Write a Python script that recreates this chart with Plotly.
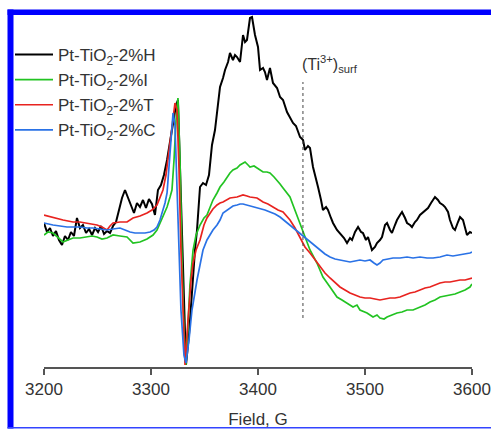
import plotly.graph_objects as go

# ---- data (field in G, derivative intensity in arbitrary units) ----
field_H = [3200, 3202.8, 3205.6, 3208.4, 3211.2, 3214.0, 3216.8, 3219.6, 3222.4, 3225.2, 3228.0, 3230.8, 3233.6, 3236.4,
           3239.3, 3242.1, 3244.9, 3247.7, 3250.5, 3253.3, 3256.1, 3258.9, 3261.7, 3264.5, 3267.3, 3270.1, 3272.9, 3275.7,
           3278.5, 3281.3, 3284.1, 3286.9, 3289.7, 3292.5, 3295.3, 3298.1, 3300.9, 3303.7, 3306.5, 3309.3, 3312.1, 3315.0,
           3317.8, 3320.6, 3323.4, 3325.2, 3328.0, 3330.8, 3332.7, 3335.5, 3338.3, 3341.1, 3343.0, 3345.8, 3348.6, 3351.4,
           3354.2, 3357.0, 3359.8, 3362.6, 3364.5, 3367.3, 3369.2, 3372.0, 3373.8, 3376.6, 3378.5, 3380.4, 3383.2, 3386.0,
           3387.9, 3389.7, 3392.5, 3394.4, 3397.2, 3400.0, 3401.9, 3404.7, 3406.5, 3408.4, 3411.2, 3414.0, 3417.8, 3420.6,
           3423.4, 3427.1, 3429.9, 3432.7, 3435.5, 3439.3, 3442.1, 3443.9, 3446.7, 3448.6, 3451.4, 3454.2, 3456.1, 3458.9,
           3460.7, 3463.6, 3465.4, 3468.2, 3470.1, 3473.8, 3476.6, 3480.4, 3483.2, 3486.0, 3487.9, 3490.7, 3493.5, 3496.3,
           3498.1, 3500.9, 3502.8, 3504.7, 3506.5, 3509.3, 3511.2, 3514.0, 3515.9, 3518.7, 3520.6, 3523.4, 3525.2, 3528.0,
           3529.9, 3532.7, 3534.6, 3537.4, 3539.3, 3542.1, 3543.9, 3546.7, 3548.6, 3551.4, 3554.2, 3557.0, 3558.9, 3561.7,
           3565.4, 3568.2, 3570.1, 3572.9, 3574.8, 3577.6, 3579.4, 3582.2, 3584.1, 3586.9, 3588.8, 3591.6, 3593.5, 3595.3,
           3598.1, 3600.0]
signal_H = [7, -2, 2, -6, -1, -10, -15, -6, -10, -2, -6, 12, 2, 5,
            -3, 1, -5, 2, -2, 4, -4, -1, -3, 4, 8, 20, 32, 40,
            32, 24, 17, 27, 23, 30, 22, 31, 26, 15, 40, 45, 55, 70,
            90, 110, 125, 130, 30, -90, -135, -105, -60, -20, 0, 43, 47, 45,
            55, 85, 100, 125, 143, 152, 160, 168, 177, 170, 175, 173, 168, 195,
            188, 190, 212, 213, 195, 183, 160, 162, 158, 150, 162, 147, 142, 133,
            130, 118, 112, 107, 104, 93, 90, 80, 84, 82, 63, 52, 43, 30,
            20, 23, 20, 12, 7, 0, -3, -8, -13, -8, -10, -2, 3, -2,
            -3, -10, -7, -15, -20, -17, -13, -10, -7, 5, 7, 0, -3, 5,
            10, 15, 18, 12, 7, 5, 3, 8, 10, 15, 18, 20, 22, 27,
            33, 30, 27, 25, 23, 18, 10, 2, 0, 8, 13, 10, 2, -5,
            -2, -3]

field_I = [3200, 3203.7, 3208.4, 3213.1, 3217.8, 3222.4, 3227.1, 3233.6, 3240.2, 3244.9, 3249.5, 3254.2, 3258.9, 3264.5,
           3271.0, 3277.6, 3283.2, 3289.7, 3296.3, 3301.9, 3305.6, 3308.4, 3312.1, 3315.0, 3317.8, 3319.6, 3321.5, 3323.4,
           3325.2, 3327.1, 3329.0, 3330.8, 3332.7, 3334.6, 3336.4, 3339.3, 3342.1, 3345.8, 3349.5, 3352.3, 3355.1, 3357.9,
           3361.7, 3364.5, 3368.2, 3371.0, 3373.8, 3376.6, 3380.4, 3383.2, 3386.0, 3387.9, 3390.7, 3392.5, 3396.3, 3399.1,
           3401.9, 3404.7, 3408.4, 3411.2, 3415.0, 3417.8, 3420.6, 3423.4, 3427.1, 3429.9, 3432.7, 3435.5, 3439.3, 3443.9,
           3448.6, 3455.1, 3460.7, 3467.3, 3473.8, 3478.5, 3483.2, 3488.8, 3492.5, 3495.3, 3501.9, 3507.5, 3511.2, 3514.0,
           3517.8, 3520.6, 3525.2, 3529.9, 3534.6, 3539.3, 3544.9, 3551.4, 3556.1, 3560.7, 3565.4, 3570.1, 3574.8, 3579.4,
           3584.1, 3588.8, 3593.5, 3598.1, 3600.0]
signal_I = [-5, -2, -3, -8, -12, -10, -8, -8, -7, -6, -7, -9, -8, -5,
            -6, -7, -13, -12, -9, -5, 0, 7, 17, 23, 33, 40, 70, 110,
            132, 70, -30, -100, -135, -100, -55, -20, -5, 5, 12, 15, 23, 30,
            37, 43, 48, 53, 57, 60, 62, 65, 67, 68, 65, 63, 64, 62,
            60, 58, 58, 57, 53, 50, 46, 42, 37, 33, 25, 17, 7, -7,
            -20, -33, -47, -57, -67, -70, -73, -77, -75, -80, -83, -87, -85, -88,
            -89, -87, -85, -83, -82, -80, -80, -77, -75, -72, -70, -67, -66, -65,
            -64, -62, -60, -57, -54]

field_T = [3200, 3203.7, 3208.4, 3213.1, 3217.8, 3222.4, 3227.1, 3233.6, 3240.2, 3244.9, 3249.5, 3254.2, 3258.9, 3261.7,
           3264.5, 3271.0, 3277.6, 3283.2, 3289.7, 3296.3, 3300.9, 3305.6, 3308.4, 3311.2, 3314.0, 3316.8, 3319.6, 3322.4,
           3324.3, 3326.2, 3328.0, 3329.9, 3331.8, 3334.6, 3337.4, 3339.3, 3342.1, 3345.8, 3349.5, 3352.3, 3355.1, 3357.9,
           3361.7, 3364.5, 3367.3, 3371.0, 3373.8, 3380.4, 3386.0, 3389.7, 3392.5, 3399.1, 3404.7, 3409.3, 3414.0, 3418.7,
           3423.4, 3429.9, 3434.6, 3439.3, 3443.9, 3448.6, 3453.3, 3457.9, 3462.6, 3467.3, 3472.0, 3476.6, 3481.3, 3486.0,
           3490.7, 3495.3, 3500.0, 3504.7, 3509.3, 3514.0, 3518.7, 3523.4, 3528.0, 3532.7, 3537.4, 3542.1, 3546.7, 3551.4,
           3556.1, 3560.7, 3565.4, 3570.1, 3574.8, 3579.4, 3584.1, 3588.8, 3593.5, 3598.1, 3600.0]
signal_T = [15, 14, 12, 11, 10, 9, 8, 8, 7, 6, 5, 3, 0, 4,
            7, 8, 8, 12, 14, 17, 20, 25, 32, 40, 55, 80, 105, 127,
            120, 60, -20, -90, -135, -90, -50, -33, -20, -10, 5, 12, 17, 21,
            25, 27, 28, 30, 32, 33, 35, 34, 33, 32, 28, 26, 23, 20,
            18, 10, 2, -8, -17, -23, -30, -37, -43, -48, -53, -57, -60, -63,
            -65, -67, -68, -68, -69, -70, -69, -68, -68, -67, -65, -63, -62, -60,
            -58, -57, -55, -53, -52, -52, -51, -50, -50, -49, -48]

field_C = [3200, 3203.7, 3208.4, 3215.0, 3221.5, 3227.1, 3233.6, 3240.2, 3245.8, 3252.3, 3258.9, 3264.5, 3271.0, 3275.7,
           3280.4, 3285.0, 3289.7, 3294.4, 3299.1, 3302.8, 3305.6, 3308.4, 3310.3, 3313.1, 3315.0, 3316.8, 3318.7, 3320.6,
           3322.4, 3324.3, 3326.2, 3328.0, 3330.8, 3332.7, 3335.5, 3338.3, 3341.1, 3343.0, 3345.8, 3348.6, 3352.3, 3355.1,
           3357.9, 3361.7, 3364.5, 3367.3, 3371.0, 3373.8, 3376.6, 3380.4, 3383.2, 3386.0, 3389.7, 3392.5, 3397.2, 3401.9,
           3406.5, 3411.2, 3415.9, 3420.6, 3425.2, 3429.9, 3434.6, 3439.3, 3443.9, 3448.6, 3453.3, 3457.9, 3462.6, 3467.3,
           3472.0, 3476.6, 3481.3, 3486.0, 3490.7, 3495.3, 3500.0, 3504.7, 3508.4, 3511.2, 3514.0, 3516.8, 3521.5, 3526.2,
           3532.7, 3539.3, 3544.9, 3551.4, 3558.0, 3563.6, 3570.1, 3576.6, 3582.2, 3588.8, 3593.5, 3598.1, 3600.0]
signal_C = [7, 6, 5, 4, 3, 3, 3, 2, 2, 1, 0, 1, 2, 0,
            -2, -3, -3, -3, -2, 0, 3, 10, 17, 27, 37, 60, 90, 117,
            105, 50, -20, -80, -125, -133, -110, -80, -60, -50, -35, -20, -10, -5,
            0, 5, 10, 17, 20, 22, 24, 25, 26, 26, 25, 24, 23, 22,
            20, 18, 16, 13, 9, 5, 1, -3, -7, -12, -16, -20, -24, -27,
            -29, -30, -31, -32, -31, -30, -31, -30, -33, -35, -33, -30, -29, -28,
            -28, -27, -28, -27, -28, -28, -27, -25, -26, -25, -24, -23, -22]

series_names = ["Pt-TiO<sub>2</sub>-2%H", "Pt-TiO<sub>2</sub>-2%I",
                "Pt-TiO<sub>2</sub>-2%T", "Pt-TiO<sub>2</sub>-2%C"]
series_colors = ["#000000", "#22c322", "#e8231f", "#2a72e6"]

tick_vals = [3200, 3300, 3400, 3500, 3600]
marker_field = 3442
marker_label = "(Ti<sup>3+</sup>)<sub>surf</sub>"

# ---- figure ----
W, H = 491, 429
L, R, T, B = 44, 19, 15, 62
pw, ph = W - L - R, H - T - B

def px_x(p):
    return (p - L) / pw

def px_y(p):
    return (H - B - p) / ph

fig = go.Figure()
for fx, sy, name, col, lw in zip([field_H, field_I, field_T, field_C],
                                 [signal_H, signal_I, signal_T, signal_C],
                                 series_names, series_colors, [2, 1.7, 1.7, 1.7]):
    fig.add_trace(go.Scatter(x=fx, y=sy, mode="lines", name=name,
                             line=dict(color=col, width=lw)))

txt = "#333333"
fig.update_layout(
    width=W, height=H,
    margin=dict(l=L, r=R, t=T, b=B, pad=0, autoexpand=False),
    paper_bgcolor="white", plot_bgcolor="white",
    font=dict(family="Liberation Sans, Arial, sans-serif", size=17, color=txt),
    showlegend=True,
    legend=dict(x=px_x(10), y=px_y(37), xanchor="left", yanchor="top",
                bgcolor="rgba(0,0,0,0)", borderwidth=0, itemwidth=38,
                font=dict(size=17, color=txt), tracegroupgap=0),
    xaxis=dict(range=[3200, 3600], tickvals=tick_vals, ticks="outside", ticklen=6,
               tickwidth=1.5, tickcolor="#555555", showline=True, linecolor="#555555",
               linewidth=1.5, showgrid=False, zeroline=False, automargin=False,
               tickfont=dict(size=17, color=txt),
               title=dict(text="Field, G", font=dict(size=17, color=txt), standoff=15)),
    yaxis=dict(range=[-137, 215], visible=False, showgrid=False, zeroline=False),
)

# dotted marker line and label
fig.add_shape(type="line", xref="x", yref="y", x0=marker_field, x1=marker_field,
              y0=-88, y1=148, line=dict(color="#444444", width=1, dash="dot"))
fig.add_annotation(x=marker_field, y=166, xref="x", yref="y", text=marker_label,
                   showarrow=False, xanchor="left", yanchor="middle",
                   xshift=-3, font=dict(size=16, color=txt))

# blue frame around the image
blue = "#0000ff"
fig.add_shape(type="rect", xref="paper", yref="paper", x0=px_x(7.5), x1=px_x(491),
              y0=px_y(15), y1=px_y(9.5), fillcolor=blue, line=dict(width=0), layer="above")
fig.add_shape(type="rect", xref="paper", yref="paper", x0=px_x(7.5), x1=px_x(13.5),
              y0=px_y(428.5), y1=px_y(9.5), fillcolor=blue, line=dict(width=0), layer="above")
fig.add_shape(type="rect", xref="paper", yref="paper", x0=px_x(7.5), x1=px_x(491),
              y0=px_y(428.5), y1=px_y(427), fillcolor="#3344ff", line=dict(width=0), layer="above")

fig.write_html("out.html", config={"displayModeBar": False},
               post_script="document.body.style.margin='0';document.body.style.overflow='hidden';")
